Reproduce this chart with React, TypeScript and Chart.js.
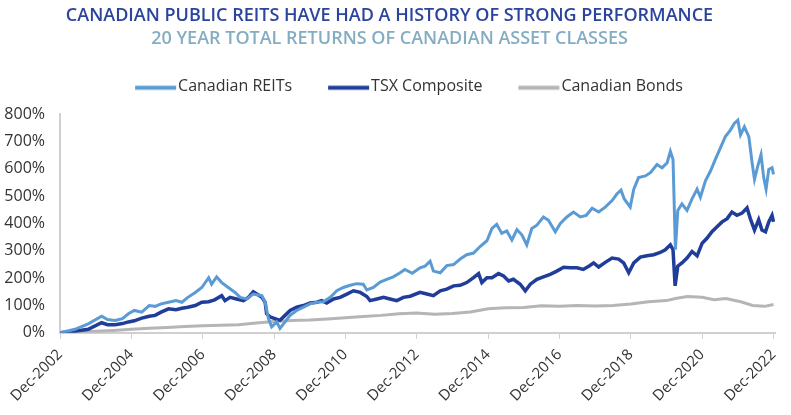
import React, { useEffect, useRef } from "react";
import { Chart, registerables } from "chart.js";

Chart.register(...registerables);

const TITLE = "CANADIAN PUBLIC REITS HAVE HAD A HISTORY OF STRONG PERFORMANCE";
const SUBTITLE = "20 YEAR TOTAL RETURNS OF CANADIAN ASSET CLASSES";
const SERIES_NAMES = ["Canadian REITs", "TSX Composite", "Canadian Bonds"];

// x positions are months elapsed since Dec-2002
const TICK_MONTHS = [0, 24, 48, 72, 96, 120, 144, 168, 192, 216, 240];
const TICK_LABELS = [
  "Dec-2002", "Dec-2004", "Dec-2006", "Dec-2008", "Dec-2010", "Dec-2012",
  "Dec-2014", "Dec-2016", "Dec-2018", "Dec-2020", "Dec-2022",
];
const Y_TICKS = [0, 100, 200, 300, 400, 500, 600, 700, 800];

const reitMonths = [
  0, 5, 9.5, 14, 16, 18.5, 21, 23, 25, 27.5, 30, 32, 34, 36.5, 39, 41, 43, 45.5, 47.7, 50,
  51, 52.7, 54.4, 56.6, 58.9, 60.6, 62.8, 65, 67.9, 69, 70.1, 71.2, 72.9, 74, 75.7, 77.4, 79.6, 81.9, 84.1, 86.4,
  88.6, 90.9, 93.1, 95.3, 97.6, 99.8, 102, 103.2, 105.4, 107.7, 109.9, 112.1, 114.4, 116, 118.5, 121.1, 122.8, 124.5, 125.6, 127.9,
  130.1, 132.4, 134.6, 136.8, 139.1, 141.3, 143.6, 145.3, 146.9, 148.6, 150.3, 152, 153.7, 155.4, 157, 158.7, 160.4, 162.6, 164.3, 166.6,
  168.3, 170.5, 172.7, 175, 177, 179, 181.2, 183.4, 185.7, 187.3, 188.7, 189.8, 191.8, 193, 194.6, 196.9, 198.6, 200.8, 202.5, 204.2,
  205.3, 206.2, 207, 207.8, 209.2, 210.9, 212.6, 214.3, 215.4, 217.1, 218.8, 220.4, 222.1, 223.8, 225.5, 226.8, 228, 228.9, 230.2, 231.7,
  232.8, 233.6, 234.7, 235.8, 236.7, 237.5, 238.4, 239.5, 240,
];
const reitValues = [
  0, 13, 33, 61, 49, 45, 52, 70, 82, 76, 100, 97, 106, 112, 118, 112, 130, 148, 166, 202,
  178, 205, 184, 166, 148, 130, 124, 142, 136, 112, 52, 22, 40, 16, 40, 64, 82, 94, 106, 112,
  114, 130, 154, 166, 174, 180, 178, 157, 166, 186, 196, 205, 220, 232, 218, 238, 244, 262, 226, 220,
  246, 250, 270, 286, 292, 316, 337, 382, 397, 364, 373, 340, 378, 358, 322, 382, 394, 424, 412, 370,
  400, 424, 442, 424, 430, 456, 442, 460, 484, 508, 522, 490, 460, 526, 568, 574, 586, 616, 604, 622,
  664, 634, 304, 448, 472, 448, 490, 526, 496, 556, 592, 634, 676, 718, 742, 766, 778, 724, 754, 718,
  622, 562, 610, 652, 568, 526, 598, 604, 580,
];

const tsxMonths = [
  0, 5, 9.5, 14, 16, 18.5, 21, 23, 25, 27.5, 30, 32, 34, 36.5, 39, 41, 43, 45.5, 47.7, 50,
  52, 54.4, 55.5, 57.2, 59.4, 61.7, 63.4, 65, 66.2, 67.9, 69, 69.5, 70.7, 72.3, 74, 75.7, 77.4, 79.6, 81.9, 84.1,
  86.4, 88, 89.7, 92, 94.2, 96.5, 98.7, 101, 103.2, 104.3, 106.6, 108.8, 111, 113.3, 115.5, 117.8, 121.1, 123.4, 125.6, 127.9,
  130.1, 132.4, 134.6, 136.8, 139.1, 140.8, 141.9, 143.6, 145.3, 147.5, 149.2, 150.9, 152.5, 154.8, 156.5, 158.2, 160.4, 162.6, 164.9, 167.1,
  169.4, 171.6, 173.9, 176, 178, 179.5, 181.2, 183.4, 185.7, 187.9, 189.6, 191.3, 193, 195.2, 197.4, 199.7, 201.9, 203.6, 205.3, 206.2,
  206.9, 207.8, 209.2, 210.9, 212.6, 214.3, 216, 217.6, 219.3, 221, 222.7, 224.4, 226, 227.7, 229.4, 231.1, 232.2, 233.6, 235, 236.1,
  237.3, 238.4, 239.5, 240,
];
const tsxValues = [
  0, 6, 13, 37, 30, 30, 34, 40, 44, 54, 61, 64, 76, 88, 85, 90, 94, 100, 112, 114,
  121, 136, 118, 130, 124, 118, 130, 150, 142, 130, 112, 70, 58, 52, 46, 64, 82, 94, 100, 109,
  112, 118, 109, 124, 130, 142, 154, 148, 133, 118, 124, 130, 124, 118, 130, 134, 148, 142, 136, 154,
  160, 172, 174, 184, 202, 217, 184, 202, 202, 217, 208, 190, 196, 178, 154, 178, 196, 205, 214, 226,
  240, 238, 238, 232, 245, 256, 241, 258, 274, 270, 256, 220, 256, 277, 282, 286, 294, 304, 322, 304,
  172, 244, 256, 274, 298, 282, 328, 346, 370, 388, 406, 418, 442, 430, 438, 457, 418, 376, 414, 376,
  370, 406, 430, 406,
];

const bondMonths = [
  0, 6, 12, 18, 24, 30, 36, 42, 48, 54, 60, 66, 72, 78, 84, 90, 96, 102, 108, 114,
  120, 126, 132, 138, 144, 150, 156, 162, 168, 174, 180, 186, 192, 198, 204, 207, 211, 216, 220, 224,
  229, 233, 237, 240,
];
const bondValues = [
  0, 2, 6, 9, 13, 17, 20, 23, 26, 28, 30, 36, 42, 45, 47, 51, 55, 60, 64, 70,
  73, 68, 71, 76, 88, 92, 93, 99, 97, 100, 98, 100, 106, 114, 118, 126, 133, 130, 121, 126,
  114, 100, 97, 104,
];

const COLORS = ["#5b9bd5", "#1f3d99", "#b5b5b5"];
const LINE_WIDTHS = [3, 3.5, 3];
const FONT = "'Open Sans', 'Noto Sans', sans-serif";

function toPoints(xs: number[], ys: number[]) {
  return xs.map((x, i) => ({ x, y: ys[i] }));
}

// legend swatch: a short thick line placed close to the label text
function makeSwatch(color: string) {
  const c = document.createElement("canvas");
  c.width = 56;
  c.height = 12;
  const g = c.getContext("2d")!;
  g.strokeStyle = color;
  g.lineWidth = 4;
  g.beginPath();
  g.moveTo(13, 7.6);
  g.lineTo(54, 7.6);
  g.stroke();
  return c;
}

const layoutTweaks = {
  id: "layoutTweaks",
  beforeLayout(chart: any) {
    const l = chart.legend;
    if (l && !l.__patched) {
      const orig = l.fit.bind(l);
      l.fit = function () {
        orig();
        this.height += 8;
      };
      l.__patched = true;
    }
  },
  afterLayout(chart: any) {
    const l = chart.legend;
    if (l) {
      l.left += 17;
      l.right += 17;
      l.top -= 2;
      l.bottom -= 2;
    }
  },
};

export default function App() {
  const ref = useRef<HTMLCanvasElement | null>(null);

  useEffect(() => {
    document.body.style.margin = "0";
    const canvas = ref.current;
    if (!canvas) return;
    const chart = new Chart(canvas, {
      type: "line",
      data: {
        datasets: [
          { label: SERIES_NAMES[0], data: toPoints(reitMonths, reitValues) },
          { label: SERIES_NAMES[1], data: toPoints(tsxMonths, tsxValues) },
          { label: SERIES_NAMES[2], data: toPoints(bondMonths, bondValues) },
        ].map((d, i) => ({
          ...d,
          borderColor: COLORS[i],
          backgroundColor: COLORS[i],
          borderWidth: LINE_WIDTHS[i],
          pointRadius: 0,
          pointHoverRadius: 0,
          pointStyle: makeSwatch(COLORS[i]),
          tension: 0,
          fill: false,
        })),
      },
      options: {
        responsive: false,
        animation: false,
        layout: { padding: { top: 2, left: 4, right: 16, bottom: 3 } },
        plugins: {
          tooltip: { enabled: false },
          title: {
            display: true,
            text: TITLE,
            color: "#2b449c",
            font: { family: FONT, size: 18, weight: 600 },
            padding: { top: 3, bottom: 1 },
          },
          subtitle: {
            display: true,
            text: SUBTITLE,
            color: "#85adc2",
            font: { family: FONT, size: 18, weight: 600 },
            padding: { top: 0, bottom: 0 },
          },
          legend: {
            display: true,
            position: "top",
            labels: {
              usePointStyle: true,
              pointStyleWidth: 40,
              boxHeight: 16,
              padding: 31,
              color: "#333333",
              font: { family: FONT, size: 16 },
            },
          },
        },
        scales: {
          x: {
            type: "linear",
            min: 0,
            max: 240.5,
            afterBuildTicks(scale: any) {
              scale.ticks = TICK_MONTHS.map((v) => ({ value: v }));
            },
            afterFit(scale: any) {
              scale.paddingLeft = 0;
              scale.paddingRight = 0;
            },
            ticks: {
              autoSkip: false,
              minRotation: 45,
              maxRotation: 45,
              color: "#333333",
              font: { family: FONT, size: 15 },
              padding: 7,
              callback: (v: any) => {
                const idx = TICK_MONTHS.indexOf(Number(v));
                return idx >= 0 ? TICK_LABELS[idx] : "";
              },
            },
            grid: {
              display: true,
              drawOnChartArea: false,
              drawTicks: true,
              tickLength: 6,
              color: "#d0d0d0",
              lineWidth: 1,
            },
            border: { display: true, color: "#d0d0d0", width: 2 },
          },
          y: {
            min: 0,
            max: 800,
            afterBuildTicks(scale: any) {
              scale.ticks = Y_TICKS.map((v) => ({ value: v }));
            },
            afterFit(scale: any) {
              scale.width = 56;
            },
            ticks: {
              color: "#333333",
              font: { family: FONT, size: 16 },
              padding: 15,
              callback: (v: any) => `${v}%`,
            },
            grid: { display: false, drawTicks: false },
            border: { display: true, color: "#d0d0d0", width: 2 },
          },
        },
      },
      plugins: [layoutTweaks],
    });
    return () => chart.destroy();
  }, []);

  return (
    <div style={{ width: 791, height: 415 }}>
      <canvas ref={ref} width={791} height={415} />
    </div>
  );
}
